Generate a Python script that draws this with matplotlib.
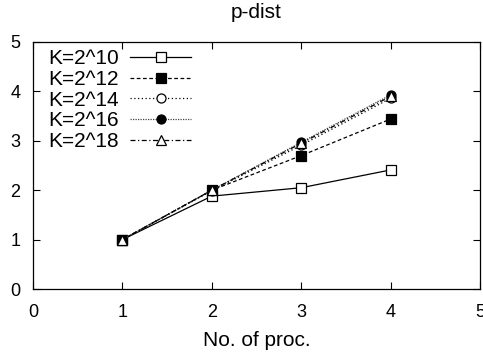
import matplotlib
matplotlib.use("Agg")
import matplotlib.pyplot as plt

procs = [1, 2, 3, 4]
labels = ["K=2^10", "K=2^12", "K=2^14", "K=2^16", "K=2^18"]
k10 = [1.0, 1.88, 2.05, 2.41]
k12 = [1.0, 2.00, 2.70, 3.44]
k14 = [1.0, 1.99, 2.91, 3.86]
k16 = [1.0, 2.00, 2.97, 3.93]
k18 = [1.0, 2.00, 2.95, 3.90]
series = [k10, k12, k14, k16, k18]

plt.rcParams['font.family'] = ['Liberation Sans', 'DejaVu Sans']
fig = plt.figure(figsize=(4.83, 3.58), dpi=100)
ax = fig.add_axes([33/483, 1-289/358, (480-33)/483, (289-42)/358])

styles = [
    dict(linestyle='-', marker='s', mfc='white', color='black'),
    dict(linestyle=(0, (3, 2)), marker='s', mfc='black', color='black'),
    dict(linestyle=(0, (1, 2)), marker='o', mfc='white', color='black'),
    dict(linestyle=(0, (1, 1)), marker='o', mfc='black', color='#444444', mec='black'),
    dict(linestyle=(0, (4, 2, 1, 2)), marker='^', mfc='white', color='black'),
]
for vals, lab, st in zip(series, labels, styles):
    ax.plot(procs, vals, label=lab, linewidth=0.9, markersize=6.5,
            markeredgewidth=0.9, **st)

ax.set_xlim(0, 5)
ax.set_ylim(0, 5)
ax.set_xticks([0, 1, 2, 3, 4, 5])
ax.set_yticks([0, 1, 2, 3, 4, 5])
ax.tick_params(direction='in', length=5, width=0.8, top=True, right=True,
               labelsize=13)
ax.tick_params(axis='x', pad=11)
ax.tick_params(axis='y', pad=9)
for s in ax.spines.values():
    s.set_linewidth(0.9)
ax.set_xlabel("No. of proc.", fontsize=15, labelpad=7)
ax.set_title("p-dist", fontsize=15, pad=17)

leg = ax.legend(loc='upper left', bbox_to_anchor=(0.034, 0.97), frameon=False,
                markerfirst=False, fontsize=15, handlelength=2.9,
                handletextpad=0.55, labelspacing=0.08, borderaxespad=0.0,
                borderpad=0.0)

fig.savefig("out.png", dpi=100)
